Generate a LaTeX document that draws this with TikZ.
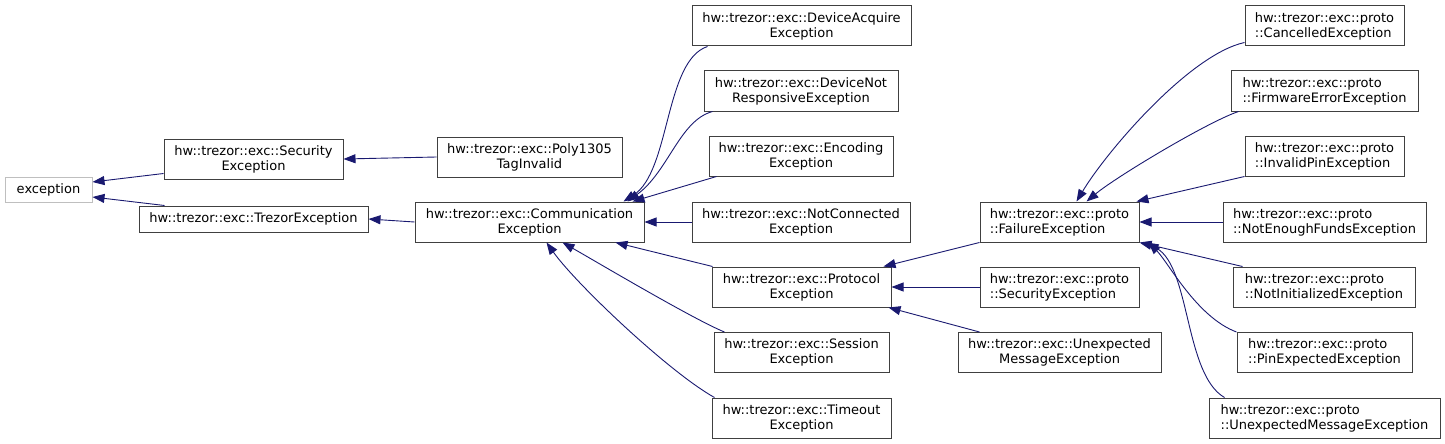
\documentclass[tikz,border=0pt]{standalone}
\usepackage{fontspec}
\setmainfont{DejaVu Sans}
\usetikzlibrary{arrows.meta}
\definecolor{edgeblue}{HTML}{191970}
\tikzset{
  cls/.style={draw=black!75, line width=1pt, fill=white, inner sep=0pt,
    minimum height=40pt, align=center, font=\fontsize{13}{15}\selectfont},
  ext/.style={cls, draw=black!25, minimum height=25pt},
  pcls/.style={cls, align=left},
  inh/.style={draw=edgeblue, line width=0.9pt,
    -{Triangle[length=12pt,width=9pt,fill=edgeblue]}}
}
\begin{document}
\begin{tikzpicture}[x=1pt,y=-1pt]
  \path[use as bounding box] (0,0) rectangle (1445,444);
  % left part
  \node[ext] (exc) at (48.5,189.5) [minimum width=87pt] {exception};
  \node[cls] (sec) at (253.5,159) [minimum width=179pt] {hw::trezor::exc::Security\\Exception};
  \node[cls] (trz) at (253.5,219) [minimum width=229pt, minimum height=26pt] {hw::trezor::exc::TrezorException};
  \node[cls] (poly) at (529.5,157) [minimum width=185pt] {hw::trezor::exc::Poly1305\\TagInvalid};
  \node[cls] (comm) at (529.5,222) [minimum width=229pt] {hw::trezor::exc::Communication\\Exception};
  % middle column
  \node[cls] (dacq) at (801.5,26) [minimum width=219pt] {hw::trezor::exc::DeviceAcquire\\Exception};
  \node[cls] (dnot) at (801,91) [minimum width=194pt] {hw::trezor::exc::DeviceNot\\ResponsiveException};
  \node[cls] (enc) at (801,156) [minimum width=184pt] {hw::trezor::exc::Encoding\\Exception};
  \node[cls] (ncon) at (801,222) [minimum width=218pt] {hw::trezor::exc::NotConnected\\Exception};
  \node[cls] (prot) at (801.5,287) [minimum width=179pt] {hw::trezor::exc::Protocol\\Exception};
  \node[cls] (sess) at (801.5,352.5) [minimum width=175pt] {hw::trezor::exc::Session\\Exception};
  \node[cls] (tout) at (801.5,418) [minimum width=179pt] {hw::trezor::exc::Timeout\\Exception};
  % protocol children
  \node[pcls] (fail) at (1059.5,222) [minimum width=159pt] {hw::trezor::exc::proto\\::FailureException};
  \node[pcls] (psec) at (1059.5,287) [minimum width=159pt] {hw::trezor::exc::proto\\::SecurityException};
  \node[cls] (unex) at (1059.5,352.5) [minimum width=203pt] {hw::trezor::exc::Unexpected\\MessageException};
  % failure children
  \node[pcls] (canc) at (1324.5,26) [minimum width=159pt] {hw::trezor::exc::proto\\::CancelledException};
  \node[pcls] (firm) at (1324.5,91) [minimum width=187pt] {hw::trezor::exc::proto\\::FirmwareErrorException};
  \node[pcls] (inv) at (1324.5,156) [minimum width=159pt] {hw::trezor::exc::proto\\::InvalidPinException};
  \node[pcls] (nef) at (1324.5,222) [minimum width=203pt] {hw::trezor::exc::proto\\::NotEnoughFundsException};
  \node[pcls] (ninit) at (1324,287) [minimum width=182pt] {hw::trezor::exc::proto\\::NotInitializedException};
  \node[pcls] (pinx) at (1324.5,352.5) [minimum width=175pt] {hw::trezor::exc::proto\\::PinExpectedException};
  \node[pcls] (unexp) at (1324.5,418) [minimum width=231pt] {hw::trezor::exc::proto\\::UnexpectedMessageException};

  \draw[inh] ([yshift=6pt]sec.south west) -- ([yshift=7.5pt]exc.east);
  \draw[inh] ([xshift=26pt]trz.north west) -- ([yshift=-7.5pt]exc.east);
  \draw[inh] (poly.west) -- (sec.east);
  \draw[inh] (comm.west) -- (trz.east);
  \draw[inh] ([xshift=16pt]dacq.south west) .. controls +(-43,14) and +(47,-30) .. ([xshift=-21pt]comm.north east);
  \draw[inh] ([xshift=9pt]dnot.south west) .. controls +(-33,9) and +(41,-30) .. ([xshift=-17pt]comm.north east);
  \draw[inh] ([xshift=8pt]enc.south west) -- ([xshift=-12pt]comm.north east);
  \draw[inh] (ncon.west) -- (comm.east);
  \draw[inh] ([xshift=1pt]prot.north west) -- ([xshift=-29pt]comm.south east);
  \draw[inh] ([xshift=11pt]sess.north west) .. controls +(-30,-12) and +(30,17) .. ([xshift=-82pt]comm.south east);
  \draw[inh] ([xshift=3pt]tout.north west) .. controls +(-45,-25) and +(30,42) .. ([xshift=-98pt]comm.south east);
  \draw[inh] (fail.south west) -- ([xshift=-8pt]prot.north east);
  \draw[inh] (psec.west) -- (prot.east);
  \draw[inh] ([xshift=22pt]unex.north west) -- ([xshift=-3pt]prot.south east);
  \draw[inh] ([yshift=4pt]canc.south west) .. controls +(-55,12) and +(30,-50) .. ([xshift=97pt]fail.north west);
  \draw[inh] ([xshift=8pt]firm.south west) .. controls +(-30,10) and +(30,-25) .. ([xshift=107pt]fail.north west);
  \draw[inh] (inv.south west) -- ([xshift=-3pt]fail.north east);
  \draw[inh] (nef.west) -- (fail.east);
  \draw[inh] ([xshift=10pt]ninit.north west) -- (fail.south east);
  \draw[inh] (pinx.north west) .. controls +(-40,-15) and +(20,20) .. ([xshift=9pt]fail.south east);
  \draw[inh] ([xshift=16pt]unexp.north west) .. controls +(-40,-23) and +(44,25) .. ([xshift=7pt]fail.south east);
\end{tikzpicture}
\end{document}
